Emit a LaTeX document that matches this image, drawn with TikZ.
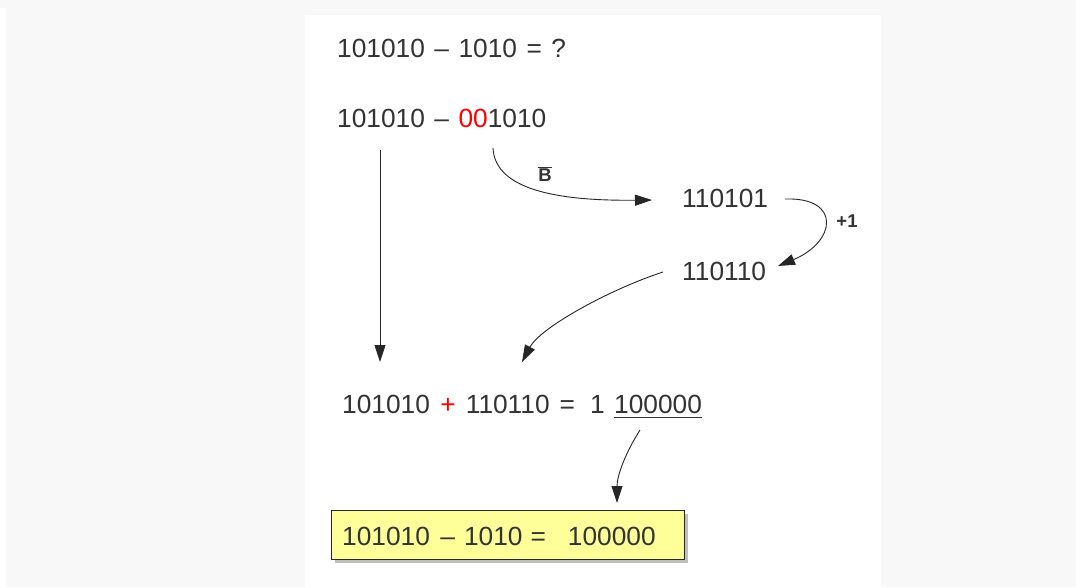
\documentclass[tikz,border=0pt]{standalone}
\usepackage{fontspec}
\setmainfont{Liberation Sans}[WordSpace=1.3]
\usetikzlibrary{arrows.meta,shadows}
\definecolor{txt}{HTML}{333333}
\definecolor{bgc}{HTML}{F8F8F8}
\definecolor{note}{HTML}{FFFF99}
\definecolor{redd}{HTML}{FF0000}
\begin{document}
\begin{tikzpicture}[x=1pt,y=-1pt,
  every node/.style={inner sep=0pt, text=txt},
  eq/.style={anchor=base west, font=\fontsize{26.3}{30}\selectfont},
  lbl/.style={font=\fontsize{18.5}{22}\selectfont\bfseries},
  arr/.style={draw=black!85, line width=0.9pt, -{Triangle[length=17pt,width=11pt]}},
  notebox/.style={draw=black!85, line width=0.9pt, fill=note,
    minimum width=353pt, minimum height=49pt, anchor=north west,
    drop shadow={shadow xshift=4pt, shadow yshift=-4pt, fill=black!25, opacity=1}}]
\useasboundingbox (0,0) rectangle (1076,587);
\fill[white] (0,0) rectangle (1076,587);
\fill[bgc] (0,0) rectangle (1076,8);
\fill[bgc] (6,8) rectangle (305,587);
\fill[bgc] (305,0) rectangle (881,15);
\fill[bgc] (881,0) rectangle (1076,587);

\node[eq] (q) at (337,57) {101010 -- 1010 = ?};
\node[eq] (b) at (337,127) {101010 -- \textcolor{redd}{00}1010};
\node[eq] (c) at (682,207) {110101};
\node[eq] (d) at (682,280) {110110};
\node[eq] (s) at (342,413) {101010\hspace{10.5pt}\textcolor{redd}{+}\hspace{10pt}110110\hspace{10pt}=};
\node[eq] (one) at (590,413) {1};
\node[eq] (r) at (614,413) {100000};
\draw[txt, line width=0.9pt] ([yshift=-4pt]r.base west) -- ([yshift=-4pt]r.base east);

\node[notebox] (box) at (331,510) {};
\node[eq] (f) at (342,545) {101010\hspace{10.5pt}--\hspace{9pt}1010\hspace{8pt}=\hspace{22pt}100000};

\node[lbl] (lb) at (545,174) {$\overline{\mbox{\bfseries B}}$};
\node[lbl] (lp) at (847,221) {+1};

\coordinate (v1) at (380,150);
\coordinate (v2) at (380,362);
\coordinate (b1) at (493,148);
\coordinate (b2) at (652,200);
\coordinate (p1) at (785,199);
\coordinate (p2) at (778,266);
\coordinate (d1) at (663,272);
\coordinate (d2) at (522,362);
\coordinate (r1) at (640,430);
\coordinate (r2) at (617,503);

\draw[arr] (v1) -- (v2);
\draw[arr] (b1) .. controls (495,192) and (565,201) .. (b2);
\draw[arr] (p1) .. controls (842,197) and (836,242) .. (p2);
\draw[arr] (d1) .. controls (608,290) and (540,328) .. (d2);
\draw[arr] (r1) .. controls (626,452) and (617,475) .. (r2);
\end{tikzpicture}
\end{document}
